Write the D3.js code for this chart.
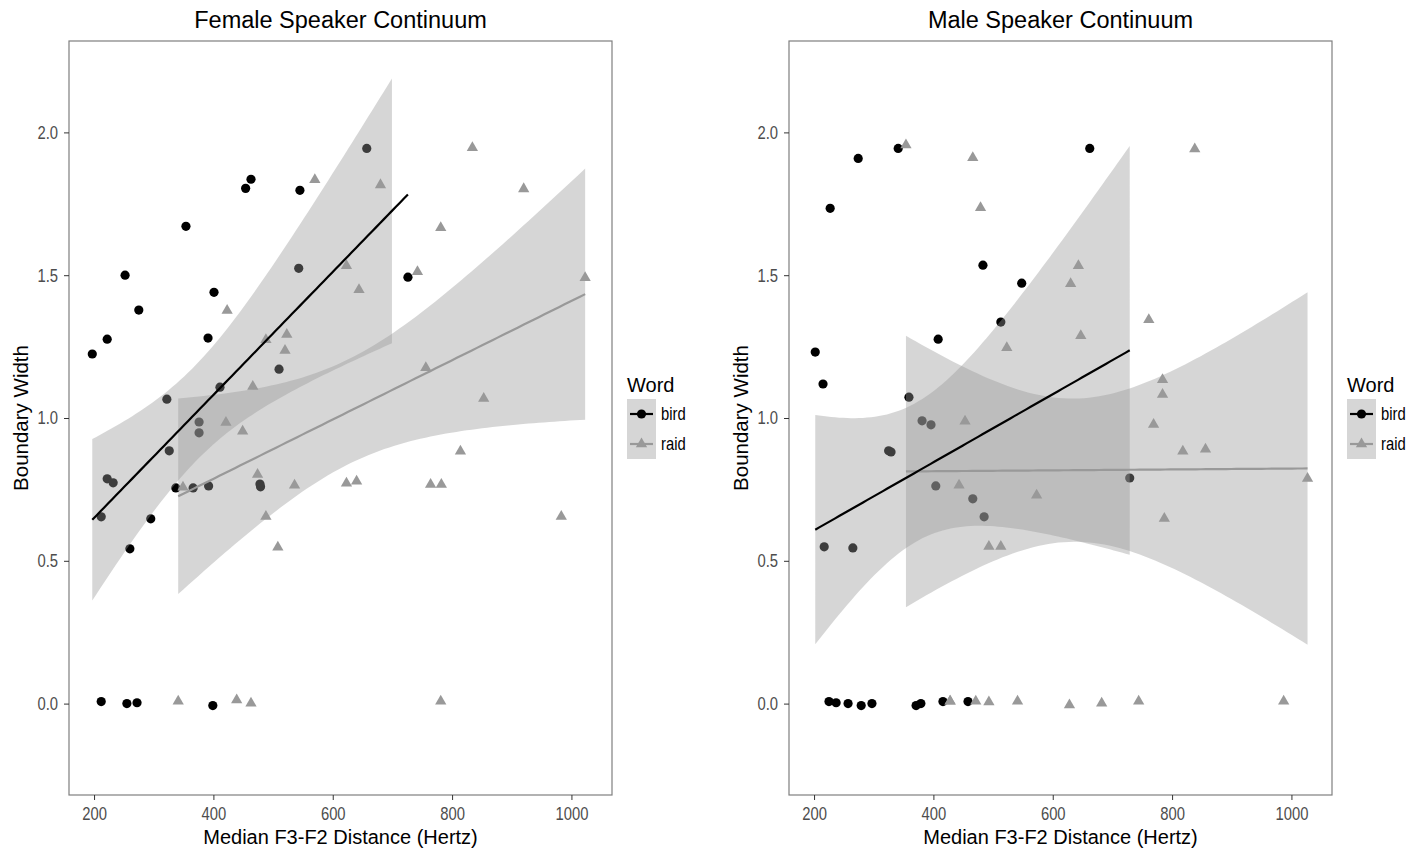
<!DOCTYPE html>
<html>
<head>
<meta charset="utf-8">
<script src="https://cdn.jsdelivr.net/npm/d3@7"></script>
<style>
  body { margin: 0; background: #fff; }
  text { font-family: "Liberation Sans", Arial, sans-serif; }
</style>
</head>
<body>
<div id="chart"></div>
<script>
const width = 1423;
const height = 852;

// values (Hz, boundary width)
const femaleBirdHz = [197, 222, 252, 275, 354, 454, 463, 545, 401, 391, 543, 657, 726, 510, 322, 411, 376, 376, 326, 222, 232, 337, 366, 392, 478, 479, 212, 295, 260, 212, 255, 272, 399];
const femaleBirdWidth = [1.224, 1.276, 1.500, 1.378, 1.671, 1.804, 1.836, 1.797, 1.440, 1.280, 1.524, 1.944, 1.493, 1.171, 1.066, 1.108, 0.986, 0.948, 0.885, 0.787, 0.773, 0.755, 0.755, 0.762, 0.769, 0.759, 0.654, 0.647, 0.542, 0.007, 0.000, 0.003, -0.007];

const femaleRaidHz = [570, 423, 488, 523, 520, 623, 680, 834, 920, 781, 742, 1023, 644, 466, 421, 449, 474, 349, 536, 623, 640, 488, 508, 756, 853, 814, 764, 782, 983, 341, 439, 463, 781];
const femaleRaidWidth = [1.836, 1.378, 1.276, 1.294, 1.238, 1.535, 1.818, 1.948, 1.804, 1.668, 1.514, 1.493, 1.451, 1.112, 0.986, 0.955, 0.804, 0.759, 0.766, 0.773, 0.780, 0.657, 0.549, 1.178, 1.070, 0.885, 0.769, 0.769, 0.657, 0.010, 0.014, 0.003, 0.010];

const maleBirdHz = [341, 274, 227, 483, 548, 513, 408, 202, 662, 215, 359, 381, 396, 325, 329, 404, 466, 485, 217, 265, 729, 225, 237, 257, 279, 297, 371, 379, 416, 458];
const maleBirdWidth = [1.944, 1.909, 1.734, 1.535, 1.472, 1.336, 1.276, 1.231, 1.944, 1.119, 1.073, 0.990, 0.976, 0.885, 0.881, 0.762, 0.717, 0.654, 0.549, 0.545, 0.790, 0.007, 0.003, 0.000, -0.007, 0.000, -0.007, 0.000, 0.007, 0.007];

// one zero at 428 Hz is drawn twice (overplotted)
const maleRaidHz = [354, 466, 479, 523, 838, 643, 630, 761, 647, 453, 443, 573, 493, 513, 784, 784, 769, 818, 856, 1027, 787, 428, 428, 471, 493, 541, 628, 682, 744, 987];
const maleRaidWidth = [1.958, 1.913, 1.738, 1.248, 1.944, 1.535, 1.472, 1.346, 1.290, 0.990, 0.766, 0.731, 0.552, 0.552, 1.136, 1.084, 0.979, 0.885, 0.892, 0.790, 0.650, 0.010, 0.010, 0.010, 0.007, 0.010, -0.003, 0.003, 0.010, 0.010];

const words = ["bird", "raid"];
const xTicks = [200, 400, 600, 800, 1000];
const yTicks = [0, 0.5, 1, 1.5, 2];
const yLimits = [-0.2, 2.2];

const panels = [
  { title: "Female Speaker Continuum", left: 69, bird: [femaleBirdHz, femaleBirdWidth], raid: [femaleRaidHz, femaleRaidWidth] },
  { title: "Male Speaker Continuum", left: 789, bird: [maleBirdHz, maleBirdWidth], raid: [maleRaidHz, maleRaidWidth] }
];

const colour = { bird: "#000000", raid: "#999999" };
const ribbonFill = "#999999";
const ribbonAlpha = 0.4;

const panelW = 543;
const panelTop = 41;
const panelBottom = 795;
const narrow = 0.8; // axis text looks condensed

// t quantile (0.975) via Cornish-Fisher expansion
function qt975(df) {
  const z = 1.959964;
  const g1 = (z ** 3 + z) / 4;
  const g2 = (5 * z ** 5 + 16 * z ** 3 + 3 * z) / 96;
  const g3 = (3 * z ** 7 + 19 * z ** 5 + 17 * z ** 3 - 15 * z) / 384;
  return z + g1 / df + g2 / df ** 2 + g3 / df ** 3;
}

// lm fit with 95% confidence band, like geom_smooth(method = "lm")
function lmBand(xs, ys) {
  const n = xs.length;
  const mx = d3.mean(xs), my = d3.mean(ys);
  let sxx = 0, sxy = 0;
  xs.forEach((x, i) => { sxx += (x - mx) ** 2; sxy += (x - mx) * (ys[i] - my); });
  const b = sxy / sxx, a = my - b * mx;
  let sse = 0;
  xs.forEach((x, i) => { sse += (ys[i] - a - b * x) ** 2; });
  const s = Math.sqrt(sse / (n - 2));
  const t = qt975(n - 2);
  const [lo, hi] = d3.extent(xs);
  return d3.range(80).map(k => {
    const x = lo + (hi - lo) * k / 79;
    const fit = a + b * x;
    const se = s * Math.sqrt(1 / n + (x - mx) ** 2 / sxx);
    return { x, fit, ymin: fit - t * se, ymax: fit + t * se };
  });
}

const svg = d3.select("#chart")
  .append("svg")
  .attr("width", width)
  .attr("height", height);

panels.forEach(p => {
  const x = d3.scaleLinear().domain([158, 1068]).range([p.left, p.left + panelW]);
  const y = d3.scaleLinear().domain([-0.32, 2.32]).range([panelBottom, panelTop]);
  const g = svg.append("g");

  // points
  words.forEach(w => {
    const [hz, bw] = p[w];
    const pts = hz.map((v, i) => [v, bw[i]]);
    if (w === "bird") {
      g.selectAll(null).data(pts).enter().append("circle")
        .attr("cx", d => x(d[0])).attr("cy", d => y(d[1]))
        .attr("r", 4.6).attr("fill", colour.bird);
    } else {
      g.selectAll(null).data(pts).enter().append("path")
        .attr("d", d3.symbol(d3.symbolTriangle, 55))
        .attr("transform", d => `translate(${x(d[0])},${y(d[1]) + 0.5})`)
        .attr("fill", colour.raid);
    }
  });

  // smooths: raid first, bird on top; band dropped outside ylim like ggplot
  ["raid", "bird"].forEach(w => {
    const band = lmBand(p[w][0], p[w][1]);
    g.append("path")
      .datum(band)
      .attr("d", d3.area()
        .defined(d => d.ymax <= yLimits[1] && d.ymin >= yLimits[0])
        .x(d => x(d.x)).y0(d => y(d.ymin)).y1(d => y(d.ymax)))
      .attr("fill", ribbonFill).attr("fill-opacity", ribbonAlpha);
    g.append("path")
      .datum(band)
      .attr("d", d3.line().x(d => x(d.x)).y(d => y(d.fit)))
      .attr("fill", "none").attr("stroke", colour[w]).attr("stroke-width", 2.2);
  });

  // border
  g.append("rect")
    .attr("x", p.left).attr("y", panelTop)
    .attr("width", panelW).attr("height", panelBottom - panelTop)
    .attr("fill", "none").attr("stroke", "#7f7f7f").attr("stroke-width", 1.2);

  // axes
  const xAxis = g.append("g")
    .attr("transform", `translate(0,${panelBottom})`)
    .call(d3.axisBottom(x).tickValues(xTicks).tickSize(5).tickPadding(7).tickFormat(d3.format("d")));
  const yAxis = g.append("g")
    .attr("transform", `translate(${p.left},0)`)
    .call(d3.axisLeft(y).tickValues(yTicks).tickSize(5).tickPadding(4).tickFormat(d3.format(".1f")));
  [xAxis, yAxis].forEach(ax => {
    ax.select(".domain").remove();
    ax.selectAll(".tick line").attr("stroke", "#333333");
    ax.selectAll(".tick text")
      .attr("fill", "#4d4d4d")
      .attr("transform", `scale(${narrow},1)`)
      .style("font-size", "18.5px")
      .style("font-family", "'Liberation Sans', Arial, sans-serif");
  });
  yAxis.selectAll(".tick text").attr("x", -11 / narrow);

  // titles
  g.append("text")
    .attr("x", p.left + panelW / 2).attr("y", 28)
    .attr("text-anchor", "middle")
    .style("font-size", "23.5px")
    .text(p.title);
  g.append("text")
    .attr("x", p.left + panelW / 2).attr("y", 844)
    .attr("text-anchor", "middle")
    .style("font-size", "20px")
    .text("Median F3-F2 Distance (Hertz)");
  g.append("text")
    .attr("transform", `translate(${p.left - 41},${(panelTop + panelBottom) / 2}) rotate(-90)`)
    .attr("text-anchor", "middle")
    .style("font-size", "20.5px")
    .text("Boundary Width");

  // legend
  const lx = p.left + 558;
  const lg = g.append("g");
  lg.append("text")
    .attr("x", lx).attr("y", 392)
    .style("font-size", "20px")
    .text("Word");
  words.forEach((w, i) => {
    const ky = 399 + i * 30;
    lg.append("rect")
      .attr("x", lx).attr("y", ky).attr("width", 29).attr("height", 30)
      .attr("fill", ribbonFill).attr("fill-opacity", ribbonAlpha);
    lg.append("line")
      .attr("x1", lx + 3).attr("x2", lx + 26)
      .attr("y1", ky + 15).attr("y2", ky + 15)
      .attr("stroke", colour[w]).attr("stroke-width", 2.2);
    if (w === "bird") {
      lg.append("circle").attr("cx", lx + 14.5).attr("cy", ky + 15).attr("r", 4.6).attr("fill", colour[w]);
    } else {
      lg.append("path")
        .attr("d", d3.symbol(d3.symbolTriangle, 55))
        .attr("transform", `translate(${lx + 14.5},${ky + 15})`)
        .attr("fill", colour[w]);
    }
    lg.append("text")
      .attr("transform", `translate(${lx + 34},${ky + 15}) scale(${narrow},1)`)
      .attr("dy", "0.35em")
      .style("font-size", "18.5px")
      .attr("fill", "#000")
      .text(w);
  });
});
</script>
</body>
</html>
